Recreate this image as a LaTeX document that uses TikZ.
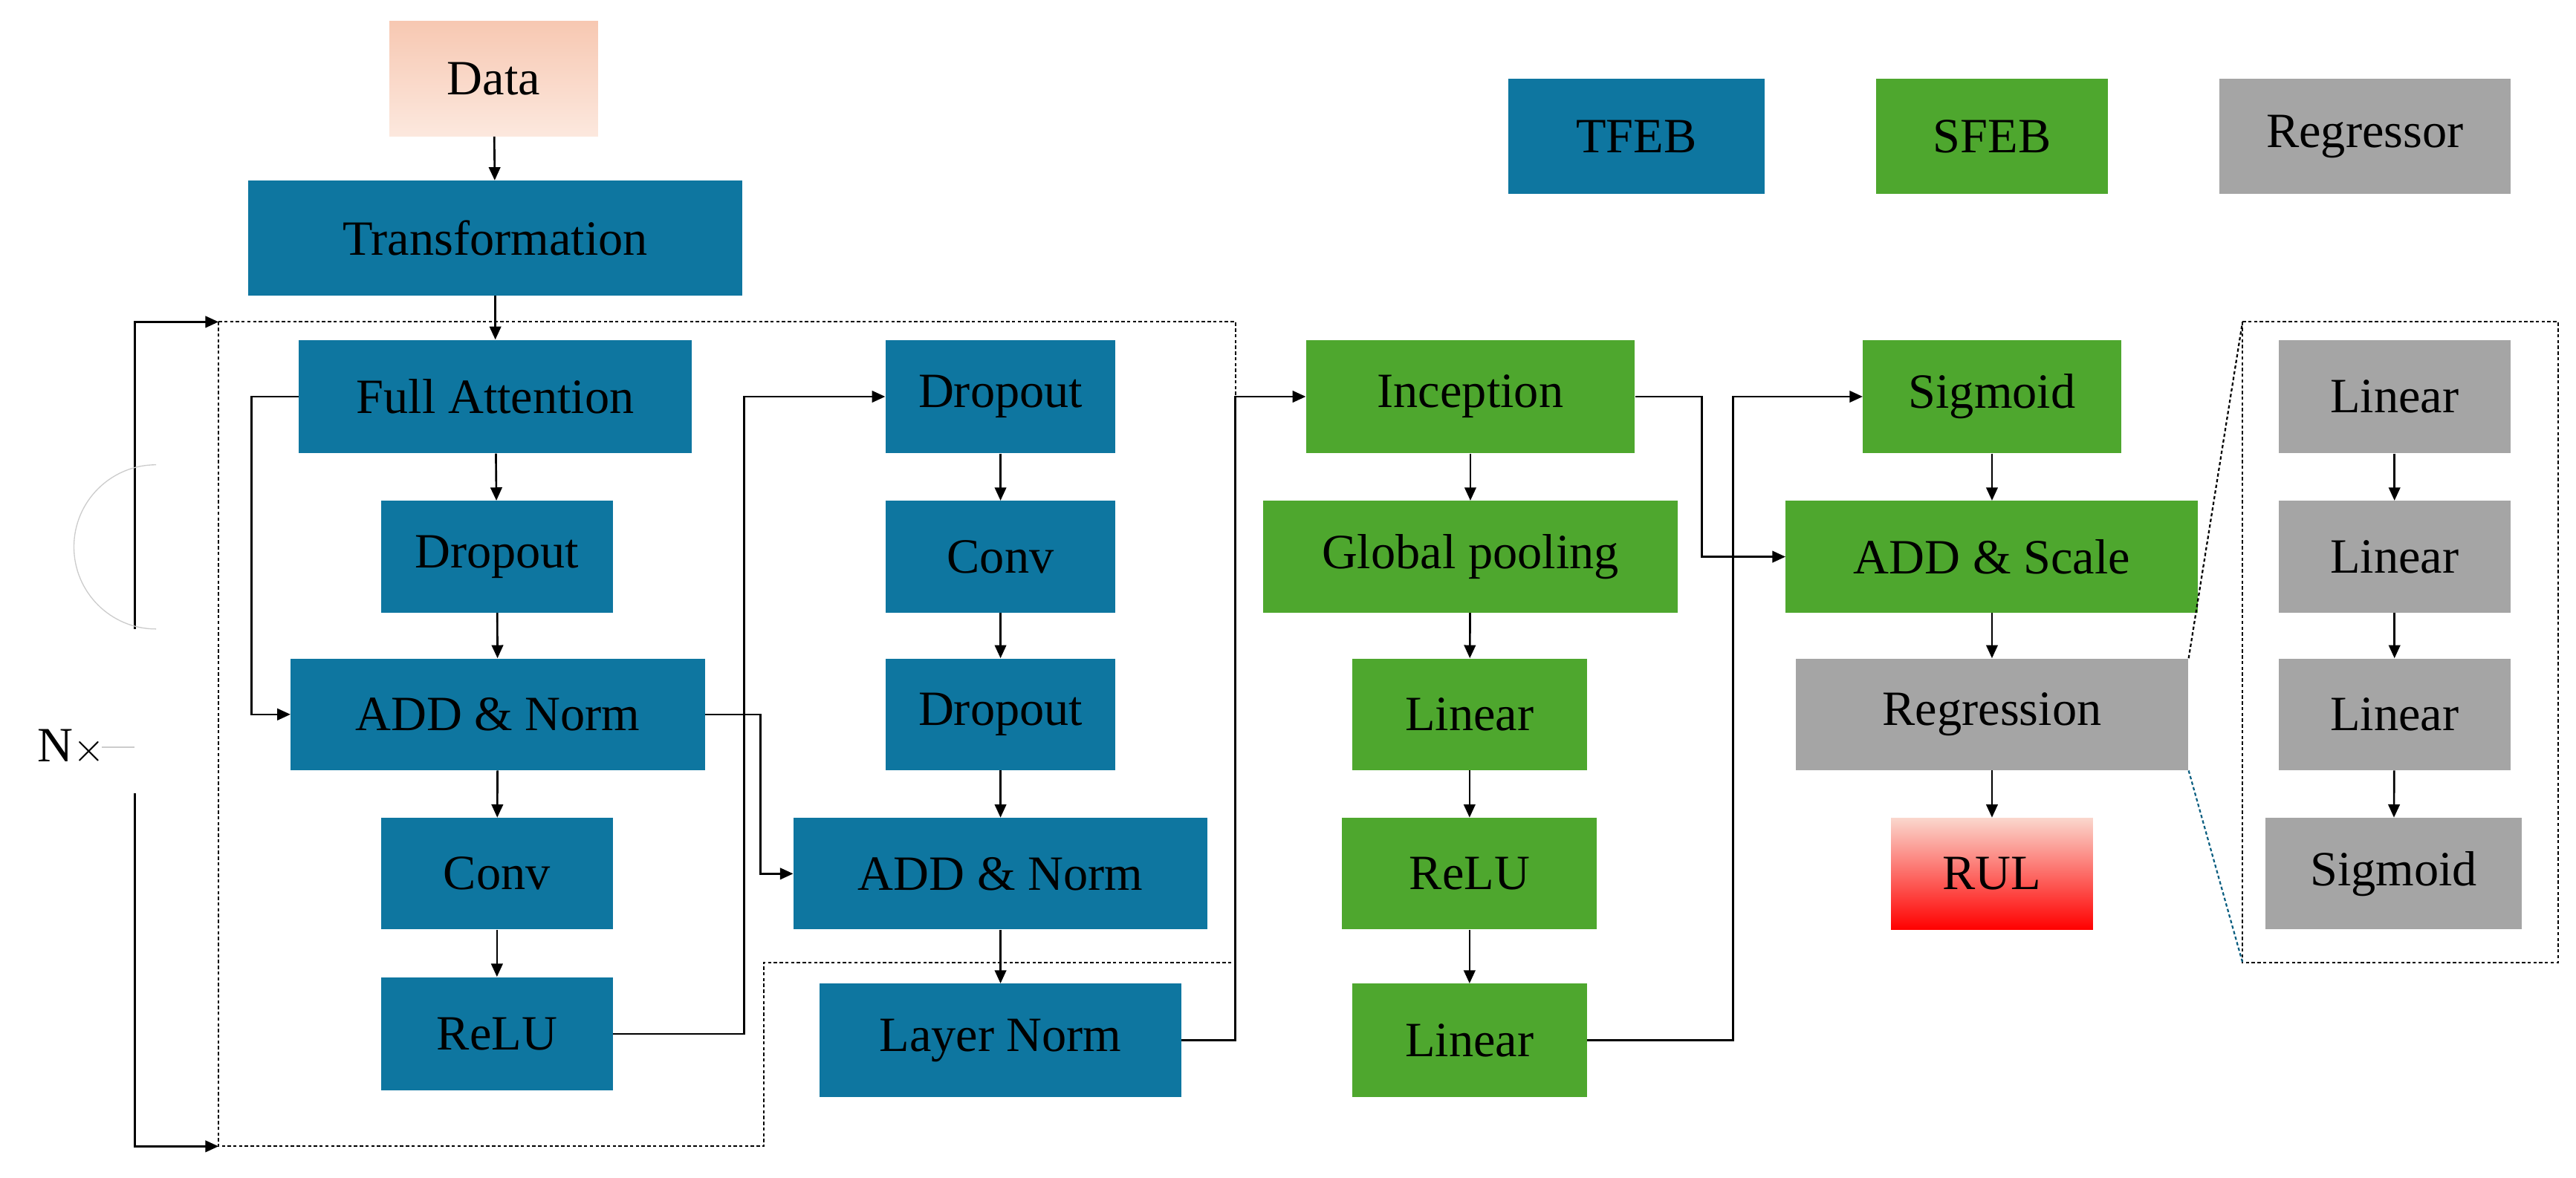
\documentclass[tikz,border=0pt]{standalone}
\usepackage{fontspec}
\setmainfont{Liberation Serif}
\usetikzlibrary{arrows.meta}
\definecolor{tb}{HTML}{0E76A0}
\definecolor{sg}{HTML}{4EA72E}
\definecolor{rg}{HTML}{A5A5A5}
\begin{document}
\begin{tikzpicture}[x=1pt,y=-1pt,
  bx/.style={draw=none,inner sep=0pt,font=\fontsize{30}{34}\selectfont,text=black},
  tf/.style={bx,fill=tb},sf/.style={bx,fill=sg},rgs/.style={bx,fill=rg},
  sz/.style 2 args={minimum width=#1pt,minimum height=#2pt},
  ar/.style={-{Triangle[length=8pt,width=7pt]},line width=1.2pt},
  ln/.style={line width=1.2pt},
  dsh/.style={dash pattern=on 2pt off 1.5pt,line width=1pt}]
\useasboundingbox (0,0) rectangle (1568,717);
% nodes
\node[bx,sz={127}{70},top color={rgb,255:red,247;green,200;blue,178},bottom color={rgb,255:red,252;green,232;blue,222}] (data) at (300.5,48) {Data};
\node[tf,sz={301}{70}] (tr) at (301.5,145) {Transformation};
\node[tf,sz={239}{69}] (fa) at (301.5,241.5) {Full Attention};
\node[tf,sz={141}{68}] (d1) at (302.5,339) {Dropout};
\node[tf,sz={252}{68}] (an1) at (303,435) {ADD \& Norm};
\node[tf,sz={141}{68}] (c1) at (302.5,532) {Conv};
\node[tf,sz={141}{69}] (r1) at (302.5,629.5) {ReLU};
\node[tf,sz={140}{69}] (d2) at (609,241.5) {Dropout};
\node[tf,sz={140}{68}] (c2) at (609,339) {Conv};
\node[tf,sz={140}{68}] (d3) at (609,435) {Dropout};
\node[tf,sz={252}{68}] (an2) at (609,532) {ADD \& Norm};
\node[tf,sz={220}{69}] (lnm) at (609,633.5) {Layer Norm};
\node[sf,sz={200}{69}] (inc) at (895,241.5) {Inception};
\node[sf,sz={252}{68}] (gp) at (895,339) {Global pooling};
\node[sf,sz={143}{68}] (l1) at (894.5,435) {Linear};
\node[sf,sz={155}{68}] (rl) at (894.5,532) {ReLU};
\node[sf,sz={143}{69}] (l2) at (894.5,633.5) {Linear};
\node[sf,sz={157}{69}] (sig) at (1212.5,241.5) {Sigmoid};
\node[sf,sz={251}{68}] (as) at (1212.5,339) {ADD \& Scale};
\node[rgs,sz={239}{68}] (reg) at (1212.5,435) {Regression};
\node[bx,sz={123}{68},top color={rgb,255:red,250;green,215;blue,205},bottom color={rgb,255:red,255;green,0;blue,0}] (rul) at (1212.5,532) {RUL};
\node[rgs,sz={141}{69}] (g1) at (1457.5,241.5) {Linear};
\node[rgs,sz={141}{68}] (g2) at (1457.5,339) {Linear};
\node[rgs,sz={141}{68}] (g3) at (1457.5,435) {Linear};
\node[rgs,sz={156}{68}] (g4) at (1457,532) {Sigmoid};
\node[tf,sz={156}{70}] (leg1) at (996,83) {TFEB};
\node[sf,sz={141}{70}] (leg2) at (1212.5,83) {SFEB};
\node[rgs,sz={177}{70}] (leg3) at (1439.5,83) {Regressor};
% dashed regions
\draw[dsh] (133,196) -- (752,196) -- (752,586) -- (465,586) -- (465,698) -- (133,698) -- cycle;
\draw[dsh] (1365,196) rectangle (1557,586);
\coordinate (zt) at (1365,196);
\coordinate (zb) at (1365,586);
\draw[dsh] (reg.north east) -- (zt);
\draw[dsh,draw=tb!80!black] (reg.south east) -- (zb);
% N x bracket
\coordinate (bt) at (133,196);
\coordinate (bb) at (133,698);
\draw[ar] (82,383) -- (82,196) -- (bt);
\draw[ar] (82,483) -- (82,698) -- (bb);
\draw[gray!40,line width=0.6pt] (95,383) arc[start angle=90,end angle=270,radius=50];
\draw[gray!40,line width=0.6pt] (62,455) -- (82,455);
\node[bx,anchor=east] (nx) at (64,455) {N$\times$};
% vertical arrows
\draw[ar] (data) -- (tr);
\draw[ar] (tr) -- (fa);
\draw[ar] (fa) -- (d1);
\draw[ar] (d1) -- (an1);
\draw[ar] (an1) -- (c1);
\draw[ar] (c1) -- (r1);
\draw[ar] (d2) -- (c2);
\draw[ar] (c2) -- (d3);
\draw[ar] (d3) -- (an2);
\draw[ar] (an2) -- (lnm);
\draw[ar] (inc) -- (gp);
\draw[ar] (gp) -- (l1);
\draw[ar] (l1) -- (rl);
\draw[ar] (rl) -- (l2);
\draw[ar] (sig) -- (as);
\draw[ar] (as) -- (reg);
\draw[ar] (reg) -- (rul);
\draw[ar] (g1) -- (g2);
\draw[ar] (g2) -- (g3);
\draw[ar] (g3) -- (g4);
% skip connections
\draw[ar] (fa.west) -- (153,241.5) |- (an1.west);
\draw[ar] (an1.east) -- (463,435) |- (an2.west);
\draw[ar] (r1.east) -- (453,629.5) |- (d2.west);
\draw[ar] (lnm.east) -- (752,633.5) |- (inc.west);
\draw[ar] (inc.east) -- (1036,241.5) |- (as.west);
\draw[ar] (l2.east) -- (1055,633.5) |- (sig.west);
\end{tikzpicture}
\end{document}
